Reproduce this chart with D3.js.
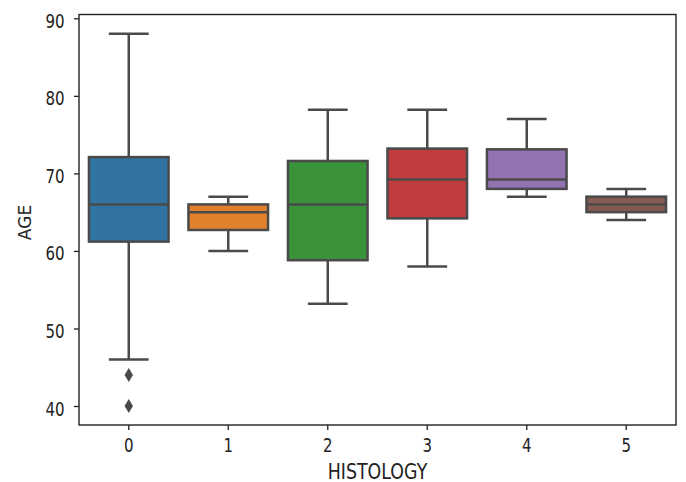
<!DOCTYPE html>
<html>
<head>
<meta charset="utf-8">
<script src="https://cdn.jsdelivr.net/npm/d3@7"></script>
<style>
  body { margin: 0; background: #fff; }
  text { font-family: "DejaVu Sans", sans-serif; }
</style>
</head>
<body>
<div id="chart"></div>
<script>
// box stats
const categories = ["0", "1", "2", "3", "4", "5"];
const whiskerLow = [46, 60, 53.2, 58, 67, 64];
const q1 = [61.2, 62.7, 58.8, 64.2, 68, 65];
const median = [66, 65, 66, 69.2, 69.2, 66];
const q3 = [72.1, 66, 71.6, 73.2, 73.1, 67];
const whiskerHigh = [88, 67, 78.2, 78.2, 77, 68];
const outliers = [[44, 40], [], [], [], [], []];
const colors = ["#3274a1", "#e1812c", "#3a923a", "#c03d3e", "#9372b2", "#845b53"];
const yTicks = [40, 50, 60, 70, 80, 90];

const data = categories.map((c, i) => ({
    cat: c, lo: whiskerLow[i], q1: q1[i], med: median[i], q3: q3[i],
    hi: whiskerHigh[i], out: outliers[i], color: colors[i]
}));

const W = 686, H = 482;
const margin = { top: 14.5, right: 10, bottom: 57, left: 79 };
const width = W - margin.left - margin.right;
const height = H - margin.top - margin.bottom;

const svg = d3.select("#chart")
    .append("svg")
    .attr("width", W)
    .attr("height", H);

const g = svg.append("g")
    .attr("transform", `translate(${margin.left},${margin.top})`);

const x = d3.scaleBand()
    .domain(categories)
    .range([0, width])
    .padding(0);

const y = d3.scaleLinear()
    .domain([37.55, 90.49])
    .range([height, 0]);

const boxW = x.bandwidth() * 0.8;
const capW = boxW * 0.5;
const lineCol = "#4a4a4a";
const lw = 2.5;

const boxes = g.selectAll(".box")
    .data(data)
    .enter()
    .append("g")
    .attr("class", "box")
    .attr("transform", d => `translate(${x(d.cat) + x.bandwidth() / 2},0)`);

// whiskers
boxes.append("line")
    .attr("x1", 0).attr("x2", 0)
    .attr("y1", d => y(d.q3)).attr("y2", d => y(d.hi))
    .attr("stroke", lineCol).attr("stroke-width", lw);
boxes.append("line")
    .attr("x1", 0).attr("x2", 0)
    .attr("y1", d => y(d.q1)).attr("y2", d => y(d.lo))
    .attr("stroke", lineCol).attr("stroke-width", lw);

// caps
boxes.append("line")
    .attr("x1", -capW / 2).attr("x2", capW / 2)
    .attr("y1", d => y(d.hi)).attr("y2", d => y(d.hi))
    .attr("stroke", lineCol).attr("stroke-width", lw);
boxes.append("line")
    .attr("x1", -capW / 2).attr("x2", capW / 2)
    .attr("y1", d => y(d.lo)).attr("y2", d => y(d.lo))
    .attr("stroke", lineCol).attr("stroke-width", lw);

// boxes
boxes.append("rect")
    .attr("x", -boxW / 2)
    .attr("width", boxW)
    .attr("y", d => y(d.q3))
    .attr("height", d => y(d.q1) - y(d.q3))
    .attr("fill", d => d.color)
    .attr("stroke", lineCol)
    .attr("stroke-width", lw);

// medians
boxes.append("line")
    .attr("x1", -boxW / 2).attr("x2", boxW / 2)
    .attr("y1", d => y(d.med)).attr("y2", d => y(d.med))
    .attr("stroke", lineCol).attr("stroke-width", lw);

// outliers as thin diamonds
boxes.selectAll(".out")
    .data(d => d.out)
    .enter()
    .append("path")
    .attr("d", v => `M0,${y(v) - 7}L4.2,${y(v)}L0,${y(v) + 7}L-4.2,${y(v)}Z`)
    .attr("fill", lineCol);

// axes
const xAxis = g.append("g")
    .attr("transform", `translate(0,${height})`)
    .call(d3.axisBottom(x).tickSize(5));

const yAxis = g.append("g")
    .call(d3.axisLeft(y).tickValues(yTicks).tickSize(5));

[xAxis, yAxis].forEach(a => {
    a.select(".domain").remove();
    a.selectAll(".tick line").attr("stroke", "#222").attr("stroke-width", 1.3);
    a.selectAll(".tick text")
        .attr("fill", "#222")
        .style("font-size", "15px")
        .attr("dy", null);
});

// the picture's text is taller than it is wide
xAxis.selectAll(".tick text")
    .attr("y", 0)
    .attr("transform", "translate(0,27) scale(1,1.3)");
yAxis.selectAll(".tick text")
    .attr("x", 0)
    .attr("transform", "translate(-14.5,9) scale(1,1.3)");

// frame
g.append("rect")
    .attr("width", width)
    .attr("height", height)
    .attr("fill", "none")
    .attr("stroke", "#222")
    .attr("stroke-width", 1.4);

svg.append("text")
    .attr("transform", `translate(${margin.left + width / 2},479) scale(1,1.18)`)
    .attr("text-anchor", "middle")
    .attr("fill", "#222")
    .style("font-size", "17.4px")
    .text("HISTOLOGY");

svg.append("text")
    .attr("transform", `translate(31,222.5) rotate(-90)`)
    .attr("text-anchor", "middle")
    .attr("fill", "#222")
    .style("font-size", "17px")
    .text("AGE");
</script>
</body>
</html>
